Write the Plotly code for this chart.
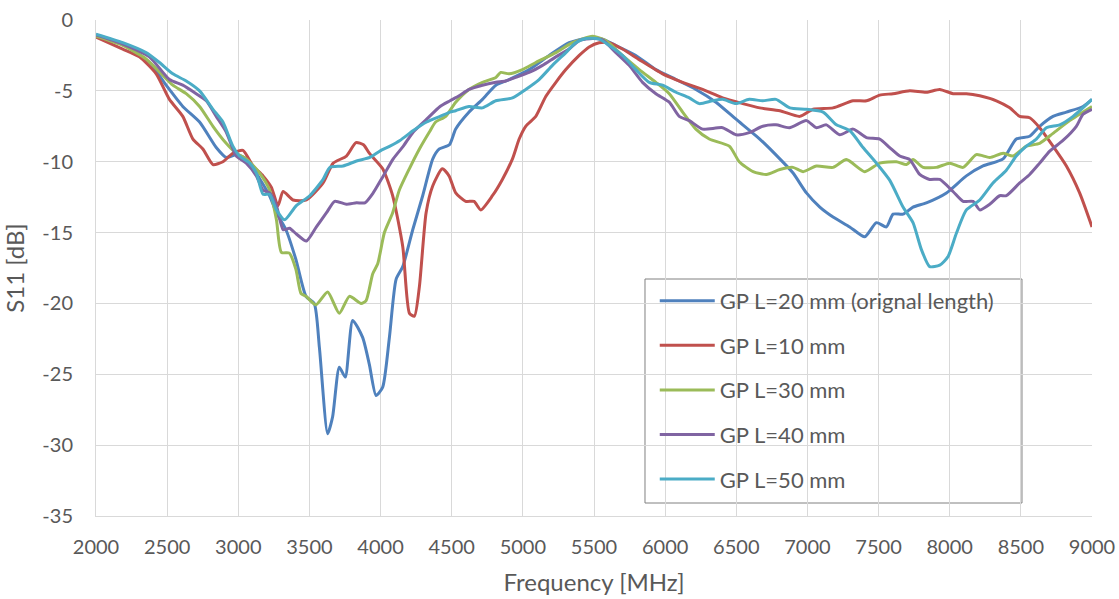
import plotly.graph_objects as go

# GP L=20 mm (original length)
freq_20 = [2000, 2188, 2375, 2493, 2610, 2728, 2845, 2915, 2986, 3056, 3150, 3220, 3268, 3335,
           3405, 3476, 3534, 3570, 3628, 3663, 3710, 3752, 3804, 3874, 3921, 3968, 4015, 4062,
           4109, 4156, 4226, 4296, 4367, 4413, 4484, 4528, 4622, 4716, 4810, 4903, 5044, 5185,
           5325, 5443, 5560, 5654, 5794, 5935, 6076, 6216, 6357, 6498, 6665, 6806, 6899, 6993,
           7087, 7180, 7297, 7403, 7485, 7555, 7602, 7672, 7742, 7836, 7977, 8117, 8234, 8375,
           8468, 8562, 8632, 8726, 8820, 8937, 9000]
s11_20 = [-1.06, -1.7, -3.0, -4.6, -6.1, -7.2, -9.0, -9.7, -9.5, -9.8, -11.2, -12.4, -13.6, -14.8,
          -16.9, -19.5, -20.0, -23.1, -29.2, -28.0, -24.5, -25.2, -21.2, -22.4, -24.3, -26.5, -25.9, -22.4,
          -18.3, -17.4, -14.8, -12.4, -9.8, -9.1, -8.8, -7.7, -6.5, -5.6, -4.6, -4.2, -3.5, -2.5,
          -1.6, -1.3, -1.35, -1.8, -2.5, -3.5, -4.2, -4.9, -5.8, -7.0, -8.4, -9.8, -10.8, -12.2,
          -13.2, -13.9, -14.6, -15.3, -14.3, -14.6, -13.7, -13.7, -13.2, -12.9, -12.2, -11.0, -10.3, -9.8,
          -8.4, -8.2, -7.5, -6.8, -6.5, -6.1, -5.6]

# GP L=10 mm
freq_10 = [2000, 2188, 2305, 2423, 2516, 2610, 2681, 2751, 2822, 2892, 2962, 3033, 3103, 3174,
           3232, 3279, 3315, 3385, 3479, 3596, 3667, 3760, 3827, 3880, 3921, 4015, 4085, 4156,
           4203, 4238, 4273, 4320, 4367, 4434, 4481, 4528, 4598, 4657, 4704, 4786, 4856, 4927,
           4974, 5020, 5091, 5161, 5232, 5302, 5396, 5466, 5536, 5607, 5700, 5818, 5982, 6123,
           6263, 6404, 6545, 6665, 6806, 6946, 7040, 7180, 7321, 7415, 7508, 7602, 7719, 7836,
           7930, 8024, 8117, 8211, 8328, 8422, 8492, 8562, 8632, 8726, 8820, 8913, 9000]
s11_10 = [-1.2, -2.05, -2.6, -3.8, -5.6, -6.8, -8.4, -9.1, -10.2, -10.0, -9.4, -9.2, -10.3, -11.0,
          -11.8, -13.1, -12.1, -12.7, -12.7, -11.5, -10.1, -9.6, -8.65, -8.8, -9.4, -10.5, -12.4, -16.0,
          -20.7, -20.9, -18.8, -13.6, -11.7, -10.5, -11.0, -12.2, -12.8, -12.8, -13.4, -12.4, -11.25, -9.8,
          -8.4, -7.5, -6.8, -5.4, -4.4, -3.5, -2.5, -1.9, -1.6, -1.6, -2.05, -2.8, -3.8, -4.4,
          -4.9, -5.5, -5.9, -6.2, -6.4, -6.8, -6.3, -6.2, -5.7, -5.7, -5.3, -5.2, -5.0, -5.1,
          -4.9, -5.2, -5.2, -5.35, -5.7, -6.2, -6.8, -6.9, -7.6, -8.9, -10.3, -12.2, -14.6]

# GP L=30 mm
freq_30 = [2000, 2188, 2352, 2469, 2540, 2634, 2728, 2822, 2915, 2986, 3056, 3150, 3220, 3268,
           3303, 3359, 3405, 3441, 3476, 3546, 3628, 3710, 3781, 3863, 3898, 3945, 3980, 4027,
           4085, 4132, 4202, 4273, 4343, 4387, 4458, 4528, 4622, 4716, 4810, 4845, 4903, 4997,
           5091, 5232, 5349, 5490, 5583, 5700, 5818, 5935, 6029, 6123, 6216, 6310, 6451, 6521,
           6618, 6712, 6806, 6899, 6970, 7063, 7180, 7274, 7403, 7508, 7625, 7696, 7742, 7813,
           7906, 8000, 8094, 8187, 8281, 8375, 8445, 8539, 8632, 8726, 8843, 9000]
s11_30 = [-1.15, -1.8, -2.75, -3.9, -4.6, -5.2, -6.1, -7.5, -8.7, -9.4, -9.8, -10.8, -12.0, -14.1,
          -16.4, -16.45, -17.6, -19.3, -19.5, -20.1, -19.2, -20.7, -19.5, -20.0, -19.8, -17.9, -17.2, -15.0,
          -13.6, -12.0, -10.5, -9.1, -7.9, -7.2, -6.8, -5.8, -4.9, -4.4, -4.05, -3.7, -3.8, -3.5,
          -3.0, -2.3, -1.6, -1.15, -1.45, -2.5, -3.5, -4.4, -5.2, -6.5, -7.7, -8.4, -8.9, -10.0,
          -10.7, -10.9, -10.55, -10.4, -10.7, -10.3, -10.4, -9.85, -10.7, -10.1, -10.0, -10.2, -9.85, -10.4,
          -10.4, -10.1, -10.4, -9.5, -9.7, -9.4, -9.6, -8.9, -8.7, -8.0, -7.1, -6.1]

# GP L=40 mm
freq_40 = [2000, 2188, 2375, 2516, 2610, 2704, 2775, 2845, 2915, 2986, 3056, 3127, 3174, 3220,
           3268, 3315, 3360, 3408, 3479, 3549, 3620, 3678, 3760, 3831, 3890, 3948, 4019, 4089,
           4160, 4230, 4324, 4418, 4488, 4552, 4622, 4716, 4810, 4880, 4950, 5044, 5138, 5232,
           5325, 5396, 5490, 5560, 5654, 5747, 5841, 5935, 6029, 6099, 6170, 6263, 6404, 6498,
           6591, 6685, 6779, 6873, 6993, 7063, 7133, 7227, 7321, 7415, 7508, 7578, 7649, 7719,
           7789, 7859, 7930, 8023, 8094, 8164, 8211, 8281, 8351, 8398, 8492, 8562, 8632, 8703,
           8796, 8890, 8937, 9000]
s11_40 = [-1.06, -1.7, -2.6, -4.2, -4.6, -5.2, -5.7, -6.8, -7.9, -9.6, -10.1, -11.0, -12.0, -12.2,
          -13.1, -14.8, -14.7, -15.1, -15.6, -14.6, -13.6, -12.8, -13.0, -12.9, -12.9, -12.2, -11.0, -9.8,
          -8.9, -7.9, -7.0, -6.1, -5.7, -5.35, -4.9, -4.6, -4.4, -4.3, -4.05, -3.7, -3.2, -2.6,
          -2.05, -1.45, -1.3, -1.4, -2.3, -3.2, -4.4, -5.2, -5.8, -6.8, -7.1, -7.7, -7.6, -8.1,
          -7.95, -7.5, -7.4, -7.6, -7.1, -7.6, -7.4, -8.1, -7.7, -8.3, -8.4, -9.0, -9.6, -9.85,
          -10.9, -11.25, -11.25, -12.1, -12.8, -12.8, -13.4, -13.0, -12.4, -12.4, -11.5, -10.9, -10.1, -9.25,
          -8.5, -7.5, -6.65, -6.3]

# GP L=50 mm
freq_50 = [2000, 2188, 2352, 2446, 2540, 2634, 2728, 2822, 2892, 2962, 3009, 3080, 3127, 3174,
           3220, 3268, 3326, 3408, 3502, 3596, 3643, 3737, 3831, 3925, 3995, 4066, 4136, 4230,
           4324, 4418, 4488, 4528, 4622, 4716, 4810, 4927, 5020, 5114, 5208, 5302, 5372, 5443,
           5536, 5607, 5700, 5794, 5888, 5982, 6076, 6170, 6240, 6333, 6404, 6498, 6591, 6685,
           6779, 6876, 6993, 7110, 7204, 7297, 7391, 7485, 7578, 7672, 7742, 7801, 7859, 7930,
           7988, 8047, 8117, 8211, 8304, 8398, 8468, 8539, 8609, 8679, 8773, 8867, 9000]
s11_50 = [-1.0, -1.6, -2.3, -3.0, -3.8, -4.3, -5.0, -6.3, -7.2, -8.9, -9.6, -10.1, -10.8, -12.3,
          -12.3, -13.4, -14.1, -13.1, -12.4, -11.25, -10.4, -10.3, -9.95, -9.7, -9.25, -8.9, -8.5, -7.8,
          -7.2, -6.8, -6.5, -6.4, -6.1, -6.2, -5.7, -5.5, -4.9, -4.2, -3.2, -2.3, -1.6, -1.3,
          -1.35, -1.8, -2.5, -3.5, -4.4, -4.6, -5.1, -5.5, -5.9, -5.7, -5.6, -5.9, -5.6, -5.7,
          -5.6, -6.2, -6.3, -6.5, -7.4, -7.8, -9.0, -10.1, -11.3, -13.2, -14.3, -16.2, -17.4, -17.3,
          -16.7, -15.05, -13.4, -12.7, -11.5, -10.6, -9.6, -8.9, -8.4, -7.6, -7.4, -6.8, -5.6]

series_names = ["GP L=20 mm (orignal length)", "GP L=10 mm", "GP L=30 mm", "GP L=40 mm", "GP L=50 mm"]
series_freq = [freq_20, freq_10, freq_30, freq_40, freq_50]
series_s11 = [s11_20, s11_10, s11_30, s11_40, s11_50]
series_colors = ["#4F81BD", "#C0504D", "#9BBB59", "#8064A2", "#4BACC6"]

x_ticks = [2000, 2500, 3000, 3500, 4000, 4500, 5000, 5500, 6000, 6500, 7000, 7500, 8000, 8500, 9000]
y_ticks = [-35, -30, -25, -20, -15, -10, -5, 0]
y_tick_labels = ["-35", "-30", "-25", "-20", "-15", "-10", "-5", "0"]

fig = go.Figure()

for name, fx, sy, color in zip(series_names, series_freq, series_s11, series_colors):
    fig.add_trace(go.Scatter(
        x=fx,
        y=sy,
        mode='lines',
        name=name,
        legendgroup=name,
        line=dict(color=color, width=3, shape='spline', smoothing=0.6)
    ))

# legend frame (drawn as a shape so it can be wider than the legend text)
fig.add_shape(
    type="rect", xref="paper", yref="paper",
    x0=0.5512, x1=0.9297, y0=0.0262, y1=0.4778,
    line=dict(color="#808080", width=1),
    fillcolor="white",
    layer="below",
)

font_family = "Lato, 'Open Sans', sans-serif"
text_color = "#595959"

fig.update_layout(
    width=1119,
    height=599,
    paper_bgcolor="white",
    plot_bgcolor="white",
    margin=dict(l=96, r=27, t=20, b=83),
    font=dict(family=font_family, size=20, color=text_color),
    xaxis=dict(
        range=[2000, 9000],
        tickvals=x_ticks,
        showgrid=True,
        gridcolor="#D9D9D9",
        gridwidth=1,
        zeroline=False,
        showline=True,
        linecolor="#D9D9D9",
        ticks="",
        automargin=False,
        ticklabeloverflow="allow",
        ticklabelstandoff=13,
        tickfont=dict(size=20, color=text_color),
        title=dict(text="Frequency [MHz]", font=dict(size=24, color=text_color), standoff=17),
    ),
    yaxis=dict(
        range=[-35, 0],
        tickvals=y_ticks,
        ticktext=y_tick_labels,
        showgrid=True,
        gridcolor="#D9D9D9",
        gridwidth=1,
        zeroline=False,
        showline=True,
        linecolor="#D9D9D9",
        ticks="",
        automargin=False,
        ticklabeloverflow="allow",
        ticklabelstandoff=18,
        tickfont=dict(size=20, color=text_color),
        title=dict(text="S11 [dB]", font=dict(size=24, color=text_color), standoff=22),
    ),
    legend=dict(
        x=0.561,
        y=0.476,
        xanchor="left",
        yanchor="top",
        bgcolor="rgba(0,0,0,0)",
        borderwidth=0,
        font=dict(size=22, color=text_color),
        itemwidth=55,
        tracegroupgap=13,
        traceorder="grouped",
    ),
    showlegend=True,
)

# drop the default body margin so the figure fills the window without scrollbars
fig.write_html(
    "out.html",
    config={"displayModeBar": False},
    post_script="document.body.style.margin='0px'; document.body.style.overflow='hidden';"
)
